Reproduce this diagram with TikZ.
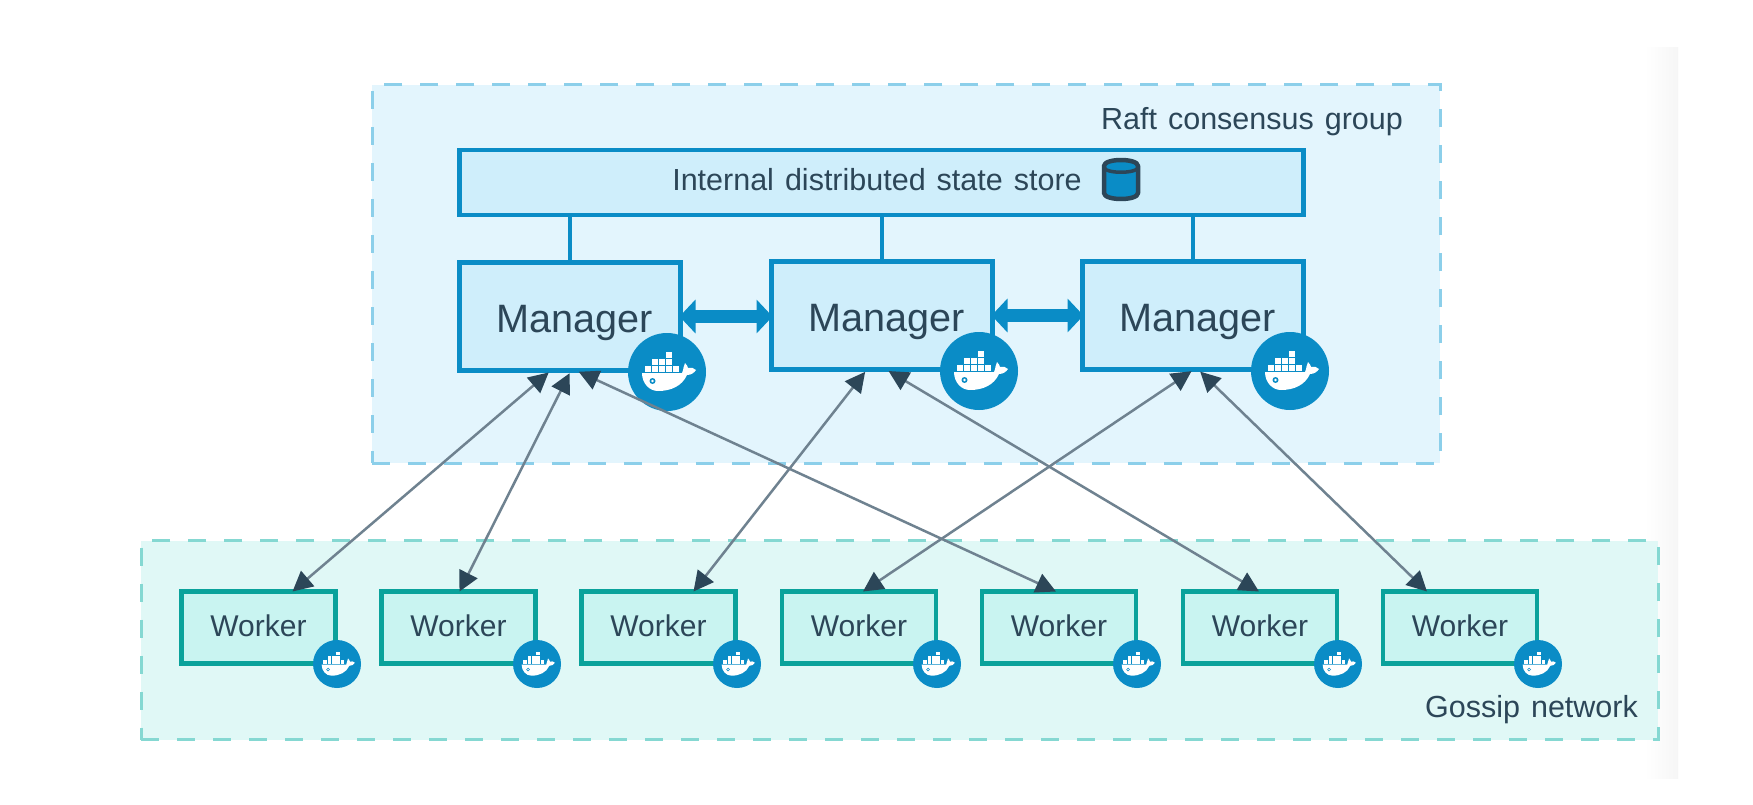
\documentclass[tikz,border=0pt]{standalone}
\usepackage{fontspec}
\setmainfont{Liberation Sans}
\newfontfamily\labelfont[WordSpace=1.3]{Liberation Sans}
\usetikzlibrary{arrows.meta,calc}
\definecolor{ink}{HTML}{2C4658}
\definecolor{bluemain}{HTML}{0A8CC6}
\definecolor{bluefill}{HTML}{CFEEFB}
\definecolor{raftfill}{HTML}{E3F5FD}
\definecolor{raftdash}{HTML}{8CCFEA}
\definecolor{gossipfill}{HTML}{E0F8F6}
\definecolor{gossipdash}{HTML}{85D8D2}
\definecolor{tealfill}{HTML}{C9F4F1}
\definecolor{tealmain}{HTML}{0AA29B}
\definecolor{linegray}{HTML}{6F8290}
\definecolor{stripgray}{HTML}{F6F6F6}
\tikzset{
  groupbox/.style={draw,line width=3pt,dash pattern=on 18pt off 18pt,outer sep=0pt,inner sep=0pt},
  labeltext/.style={text=ink,font=\labelfont\fontsize{30.5}{34}\selectfont,inner sep=0pt},
  managerbox/.style={draw=bluemain,fill=bluefill,line width=4.5pt,minimum width=221pt,minimum height=108pt,inner sep=0pt,outer sep=0pt,text=ink,font=\fontsize{39.6}{44}\selectfont,text height=39.4pt,text depth=8.3pt},
  workerbox/.style={draw=tealmain,fill=tealfill,line width=4.5pt,minimum width=154pt,minimum height=72pt,inner sep=0pt,outer sep=0pt,text=ink,font=\fontsize{30}{34}\selectfont,text height=22pt,text depth=4.4pt},
  badge/.style={circle,fill=bluemain,draw=none,inner sep=0pt,outer sep=0pt},
  link/.style={draw=bluemain,line width=3.5pt},
  peer/.style={draw=bluemain,line width=13pt,{Triangle[length=16pt,width=33pt,color=bluemain]}-{Triangle[length=16pt,width=33pt,color=bluemain]},shorten >=-1pt,shorten <=-1pt},
  conn/.style={draw=linegray,line width=2.5pt,shorten <=3pt,{Triangle[length=20pt,width=20pt,color=ink]}-{Triangle[length=20pt,width=20pt,color=ink]}},
  whale/.pic={
    \fill[white] (-25,1) -- (15,1) .. controls (17,-3) and (16,-6) .. (18,-9)
      .. controls (20,-7) and (21,-5) .. (21,-4) .. controls (24,-5) and (27,-4) .. (29,-2)
      .. controls (27,1) and (24,3) .. (20,3) .. controls (15,14) and (4,19) .. (-9,19)
      .. controls (-18,19) and (-25,11) .. (-25,1) -- cycle;
    \fill[bluemain] (-14.5,9) circle (3);
    \fill[white] (-14.5,9) circle (1.4);
    \foreach \cx in {-22,-15,-8,-1,6} \fill[white] (\cx,-6) rectangle +(6,6);
    \foreach \cx in {-15,-8,-1} \fill[white] (\cx,-13) rectangle +(6,6);
    \fill[white] (-1,-20) rectangle +(6,6);
  }
}
\newcommand{\mgrlabel}{\hspace*{9pt}Manager}
\begin{document}
\begin{tikzpicture}[x=1pt,y=-1pt]
\useasboundingbox (0,0) rectangle (1753,805);
\fill[white] (0,0) rectangle (1753,805);
\shade[left color=white,right color=stripgray] (1645,48) rectangle (1678,778);
% groups
\node[groupbox,draw=raftdash,fill=raftfill,minimum width=1068pt,minimum height=378pt] (raft) at (906,274) {};
\node[groupbox,draw=gossipdash,fill=gossipfill,minimum width=1517pt,minimum height=199pt] (gossip) at (899.5,640) {};
\node[labeltext] (rafttext) at (1252,121.5) {Raft consensus group};
\node[labeltext] (gossiptext) at (1531.5,709.5) {Gossip network};
% store
\node[draw=bluemain,fill=bluefill,line width=4.5pt,minimum width=844pt,minimum height=65pt,inner sep=0pt,outer sep=0pt] (store) at (881.5,182.5) {};
\node[labeltext] (storetext) at (877,180) {Internal distributed state store};
% cylinder
\draw[draw=ink,line width=4.5pt,fill=bluemain,line join=round] (1104,166) -- (1104,193)
   .. controls (1104,201) and (1138,201) .. (1138,193) -- (1138,166)
   .. controls (1138,158) and (1104,158) .. (1104,166) -- cycle;
\draw[ink,line width=3.5pt] (1104,167) .. controls (1104,174) and (1138,174) .. (1138,167);
% managers
\node[managerbox] (m1) at (570,316.5) {\mgrlabel};
\node[managerbox] (m2) at (882,315.5) {\mgrlabel};
\node[managerbox] (m3) at (1193,315.5) {\mgrlabel};
\draw[link] (m1.north) -- (m1.north |- store.south);
\draw[link] (m2.north) -- (m2.north |- store.south);
\draw[link] (m3.north) -- (m3.north |- store.south);
\draw[peer] (m1.east) -- (m1.east -| m2.west);
\draw[peer] (m2.east) -- (m3.west);
% workers
\node[workerbox] (w1) at (258.5,627.5) {Worker};
\node[workerbox] (w2) at (458.5,627.5) {Worker};
\node[workerbox] (w3) at (658.5,627.5) {Worker};
\node[workerbox] (w4) at (859,627.5) {Worker};
\node[workerbox] (w5) at (1059,627.5) {Worker};
\node[workerbox] (w6) at (1260,627.5) {Worker};
\node[workerbox] (w7) at (1460,627.5) {Worker};
% badges
\foreach \n/\px/\py in {1/667/372,2/979/371,3/1290/371}{
  \node[badge,minimum size=78pt] (bm\n) at (\px,\py) {};
  \pic at (bm\n) {whale};
}
\foreach \n/\px in {1/337,2/537,3/737,4/937,5/1137,6/1338,7/1538}{
  \node[badge,minimum size=48pt] (bw\n) at (\px,664) {};
  \pic[scale=0.615] at (bw\n) {whale};
}
% connectors
\draw[conn] ([xshift=-19pt]m1.south) -- ([xshift=34pt]w1.north);
\draw[conn] ([xshift=1pt]m1.south) -- ([xshift=1pt]w2.north);
\draw[conn] ([xshift=6pt]m1.south) -- ([xshift=-3pt]w5.north);
\draw[conn] ([xshift=-15pt]m2.south) -- ([xshift=35pt]w3.north);
\draw[conn] ([xshift=4pt]m2.south) -- ([xshift=-1pt]w6.north);
\draw[conn] ([xshift=1pt]m3.south) -- ([xshift=4pt]w4.north);
\draw[conn] ([xshift=5pt]m3.south) -- ([xshift=-33pt]w7.north);
\end{tikzpicture}
\end{document}
